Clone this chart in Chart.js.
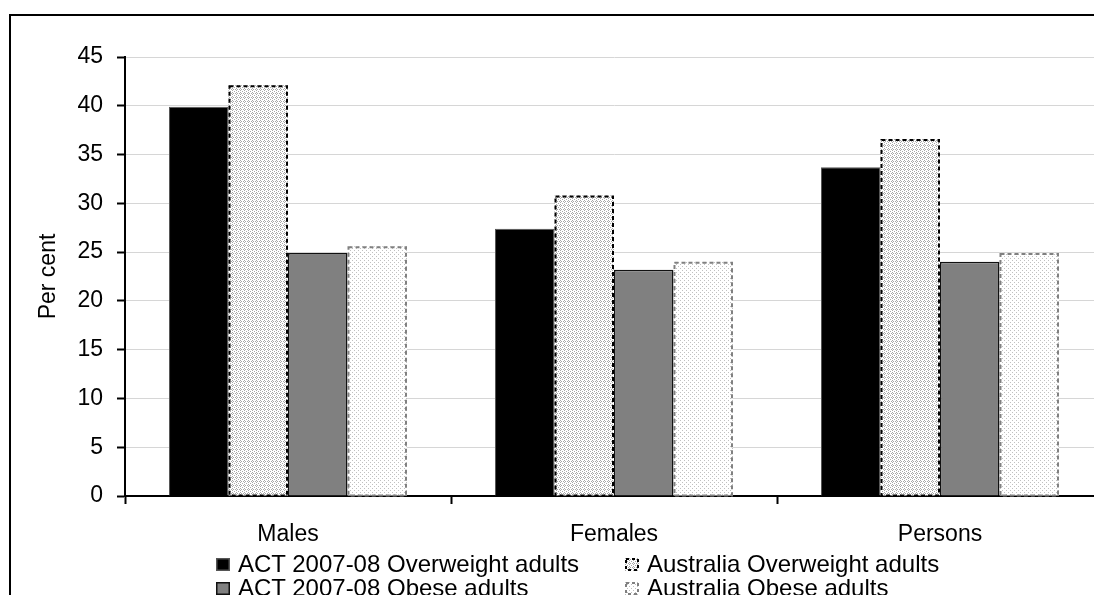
<!DOCTYPE html>
<html>
<head>
<meta charset="utf-8">
<script src="https://cdn.jsdelivr.net/npm/chart.js@4.4.1/dist/chart.umd.min.js"></script>
<style>
  html, body { margin: 0; padding: 0; background: #fff; }
  body { width: 1094px; height: 595px; overflow: hidden; position: relative; font-family: "Liberation Sans", Arial, sans-serif; }
  #frame { position: absolute; left: 9px; top: 14px; width: 1200px; height: 700px; border-left: 2px solid #000; border-top: 2px solid #000; }
  #wrap { position: absolute; left: 0; top: 0; width: 1130px; height: 595px; }
  #legend { position: absolute; left: 216px; top: 552px; display: grid; grid-template-columns: 409px auto; grid-auto-rows: 24px; font-size: 24px; line-height: 24px; color: #000; white-space: nowrap; }
  .item { display: flex; align-items: flex-start; }
  .item canvas { margin-top: 6px; margin-right: 8px; }
</style>
</head>
<body>
<div id="frame"></div>
<div id="wrap"><canvas id="c" width="1130" height="595"></canvas></div>
<div id="legend"></div>
<script>
// ---- data ----
const categories = ["Males", "Females", "Persons"];
const actOverweight = [39.9, 27.4, 33.7];
const ausOverweight = [42.1, 30.8, 36.6];
const actObese = [24.9, 23.2, 24.0];
const ausObese = [25.6, 24.0, 24.9];
const seriesNames = ["ACT 2007-08 Overweight adults", "Australia Overweight adults", "ACT 2007-08 Obese adults", "Australia Obese adults"];
const yTicks = [0, 5, 10, 15, 20, 25, 30, 35, 40, 45];

// ---- patterns ----
function makePattern(cells, color, size) {
  const c = document.createElement('canvas');
  c.width = size; c.height = size;
  const g = c.getContext('2d');
  g.fillStyle = '#fff'; g.fillRect(0, 0, size, size);
  g.fillStyle = color;
  cells.forEach(([x, y]) => g.fillRect(x, y, 1, 1));
  return document.getElementById('c').getContext('2d').createPattern(c, 'repeat');
}
const patDense = makePattern([[0,0],[1,1],[3,1],[0,2],[2,3]], '#a8a8a8', 4);
const patLight = makePattern([[0,0],[2,2]], '#c0c0c0', 4);

const FONT = { family: '"Liberation Sans", Arial, sans-serif', size: 23 };

const dashPlugin = {
  id: 'dashBorders',
  afterDatasetsDraw(chart) {
    const ctx = chart.ctx;
    chart.data.datasets.forEach((ds, i) => {
      if (!ds.dashColor) return;
      const meta = chart.getDatasetMeta(i);
      meta.data.forEach(bar => {
        const p = bar.getProps(['x', 'y', 'base', 'width'], true);
        ctx.save();
        ctx.strokeStyle = ds.dashColor;
        ctx.lineWidth = 2;
        ctx.setLineDash([4, 3]);
        ctx.strokeRect(p.x - p.width / 2 + 1, p.y + 1, p.width - 2, p.base - p.y - 1);
        ctx.restore();
      });
    });
  }
};

const chart = new Chart(document.getElementById('c'), {
  type: 'bar',
  data: {
    labels: categories,
    datasets: [
      { label: seriesNames[0], data: actOverweight, backgroundColor: '#000', borderColor: '#555', borderWidth: 1 },
      { label: seriesNames[1], data: ausOverweight, backgroundColor: patDense, borderWidth: 0, dashColor: '#000' },
      { label: seriesNames[2], data: actObese, backgroundColor: '#808080', borderColor: '#111', borderWidth: 1.5 },
      { label: seriesNames[3], data: ausObese, backgroundColor: patLight, borderWidth: 0, dashColor: '#808080' }
    ]
  },
  options: {
    responsive: false,
    animation: false,
    events: [],
    layout: { padding: { left: 0, right: 27, top: 57, bottom: 49 } },
    datasets: { bar: { categoryPercentage: 0.73, barPercentage: 1.0 } },
    plugins: { legend: { display: false }, tooltip: { enabled: false } },
    scales: {
      x: {
        afterFit(s) { s.height = 50; },
        grid: { drawOnChartArea: false, drawTicks: true, tickLength: 8, tickColor: '#000', tickWidth: 2, offset: true },
        border: { color: '#000', width: 2 },
        ticks: { color: '#000', font: FONT, padding: 17, maxRotation: 0 }
      },
      y: {
        min: 0, max: 45,
        afterFit(s) { s.width = 125; },
        afterBuildTicks(s) { s.ticks = yTicks.map(v => ({ value: v })); },
        grid: { color: '#d6d6d6', lineWidth: 1, drawTicks: true, tickLength: 8, tickColor: '#000', tickWidth: 2 },
        border: { color: '#000', width: 2 },
        ticks: { color: '#000', font: FONT, padding: 14 },
        title: { display: true, text: 'Per cent', color: '#000', font: { family: FONT.family, size: 23 }, padding: { top: 35, bottom: 0 } }
      }
    }
  },
  plugins: [dashPlugin]
});

// ---- HTML legend built from the chart's datasets ----
const legend = document.getElementById('legend');
chart.data.datasets.forEach(ds => {
  const item = document.createElement('div');
  item.className = 'item';
  const sw = document.createElement('canvas');
  sw.width = 14; sw.height = 13;
  const g = sw.getContext('2d');
  g.fillStyle = ds.backgroundColor; g.fillRect(0, 0, 14, 13);
  if (ds.dashColor) {
    g.strokeStyle = ds.dashColor; g.lineWidth = 2; g.setLineDash([3, 3]);
    g.strokeRect(1, 1, 12, 11);
  } else {
    g.strokeStyle = ds.borderColor; g.lineWidth = 1.5; g.strokeRect(0.75, 0.75, 12.5, 11.5);
  }
  item.appendChild(sw);
  const t = document.createElement('span');
  t.textContent = ds.label;
  item.appendChild(t);
  legend.appendChild(item);
});
</script>
</body>
</html>
